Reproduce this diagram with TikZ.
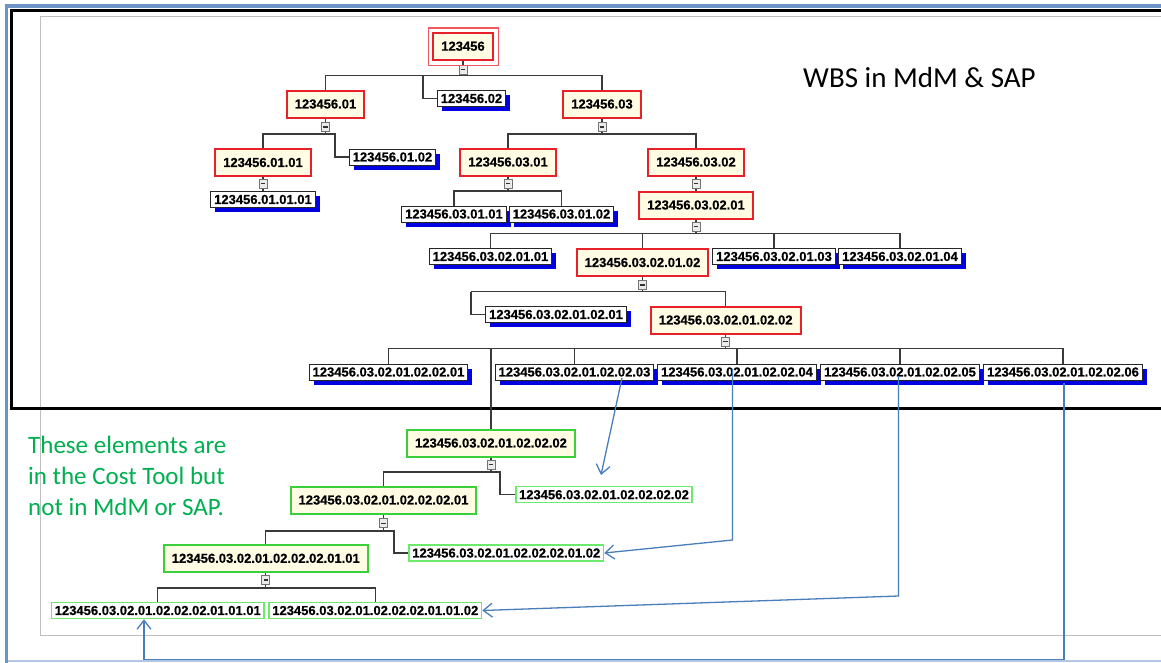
\documentclass[tikz,border=0pt]{standalone}
\usepackage{fontspec}
\usetikzlibrary{shadows,arrows.meta,calc}
\newfontfamily\lsans{Liberation Sans}[BoldFeatures={FakeBold=0.6}]
\newfontfamily\carl{Carlito}
\definecolor{wbsred}{HTML}{E8202A}
\definecolor{cream}{HTML}{FFFCE3}
\definecolor{wbsgreen}{HTML}{3CCF3C}
\definecolor{leafgreen}{HTML}{6BEA6B}
\definecolor{shadowblue}{HTML}{0000E0}
\definecolor{arrowblue}{HTML}{4A7EBB}
\definecolor{frameblue}{HTML}{6E93C6}
\definecolor{framelight}{HTML}{B4C6E0}
\definecolor{txtgreen}{HTML}{00B050}
\definecolor{treeline}{HTML}{3A3A3A}
\pgfdeclarelayer{bg}
\pgfsetlayers{bg,main}
\begin{document}
\begin{tikzpicture}[x=1pt,y=-1pt,
  lbl/.style={font=\lsans\bfseries\fontsize{13}{15}\selectfont, text=black},
  redbox/.style={lbl, draw=wbsred, line width=2pt, fill=cream, inner xsep=8pt, inner ysep=0pt, minimum height=27pt},
  leaf/.style={lbl, draw=black!85, line width=1pt, fill=white, inner xsep=3.5pt, inner ysep=0pt, minimum height=16pt,
    general shadow={shadow xshift=4.5pt, shadow yshift=-4.5pt, fill=shadowblue}},
  greenbox/.style={lbl, draw=wbsgreen, line width=2pt, fill=cream, inner xsep=8pt, inner ysep=0pt, minimum height=27pt},
  greenleaf/.style={lbl, draw=leafgreen, line width=1.5pt, fill=white, inner xsep=3.2pt, inner ysep=0pt, minimum height=16pt},
  toggle/.style={draw=black!55, line width=0.8pt, fill=black!8, minimum width=8pt, minimum height=9pt, inner sep=0pt,
    path picture={\draw[line width=1.2pt, black!80] ([xshift=-2.3pt]path picture bounding box.center) -- ([xshift=2.3pt]path picture bounding box.center);}},
  tree/.style={draw=treeline, line width=1.3pt},
  link/.style={draw=arrowblue, line width=1.3pt},
  tip/.style={-{Straight Barb[length=9pt,width=14pt]}}
]
\useasboundingbox (0,0) rectangle (1161,662);

% ---------- nodes ----------
\node[redbox] (root) at (463,46.2) {123456};
\node[toggle] (t0) at (463,69.5) {};
\node[redbox] (n01) at (325.5,104) {123456.01};
\node[leaf] (n02) at (471.5,98.5) {123456.02};
\node[redbox] (n03) at (602,104) {123456.03};

\node[toggle] (t01) at (325.5,127) {};
\node[redbox] (n0101) at (263,162.5) {123456.01.01};
\node[leaf] (n0102) at (392.5,157) {123456.01.02};
\node[toggle] (t0101) at (263,183.5) {};
\node[leaf] (n010101) at (263,199.5) {123456.01.01.01};

\node[toggle] (t03) at (602,127) {};
\node[redbox] (n0301) at (508,162) {123456.03.01};
\node[redbox] (n0302) at (696,162) {123456.03.02};
\node[toggle] (t0301) at (508,183.5) {};
\node[leaf] (n030101) at (454,214) {123456.03.01.01};
\node[leaf] (n030102) at (561.5,214) {123456.03.01.02};
\node[toggle] (t0302) at (696,183.5) {};
\node[redbox] (n030201) at (696,205) {123456.03.02.01};

\node[toggle] (t030201) at (696,226.5) {};
\node[leaf] (n03020101) at (490.5,256.5) {123456.03.02.01.01};
\node[redbox] (n03020102) at (642.5,262.5) {123456.03.02.01.02};
\node[leaf] (n03020103) at (774,256.5) {123456.03.02.01.03};
\node[leaf] (n03020104) at (900,256.5) {123456.03.02.01.04};

\node[toggle] (t03020102) at (642.5,285) {};
\node[leaf] (n0302010201) at (556,314.5) {123456.03.02.01.02.01};
\node[redbox] (n0302010202) at (725.7,320) {123456.03.02.01.02.02};

\node[toggle] (t0302010202) at (725.7,341.5) {};
\node[leaf] (L01) at (388.5,372) {123456.03.02.01.02.02.01};
\node[leaf] (L03) at (574.5,372) {123456.03.02.01.02.02.03};
\node[leaf] (L04) at (737,372) {123456.03.02.01.02.02.04};
\node[leaf] (L05) at (900,372) {123456.03.02.01.02.02.05};
\node[leaf] (L06) at (1063,372) {123456.03.02.01.02.02.06};

\node[greenbox] (G1) at (491,443) {123456.03.02.01.02.02.02};
\node[toggle] (tG1) at (491,464.5) {};
\node[greenbox] (G3) at (383.5,500) {123456.03.02.01.02.02.02.01};
\node[greenleaf] (G2) at (604,494.7) {123456.03.02.01.02.02.02.02};
\node[toggle] (tG3) at (383.5,523.3) {};
\node[greenbox] (G5) at (265.8,558.3) {123456.03.02.01.02.02.02.01.01};
\node[greenleaf] (G4) at (506.3,553) {123456.03.02.01.02.02.02.01.02};
\node[toggle] (tG5) at (265.8,580) {};
\node[greenleaf] (G6) at (157.8,610.5) {123456.03.02.01.02.02.02.01.01.01};
\node[greenleaf] (G7) at (375.3,610.5) {123456.03.02.01.02.02.02.01.01.02};

% root extra frame
\draw[wbsred!75, line width=1.2pt] ($(root.north west)+(-3.5,-3.8)$) rectangle ($(root.south east)+(4.5,5)$);

% texts
\node[font=\carl\fontsize{29}{35}\selectfont, anchor=base west, inner sep=0pt] (title) at (803,87.5) {WBS in MdM \& SAP};
\node[font=\carl\fontsize{25}{31}\selectfont, text=txtgreen, anchor=north west, align=left, inner sep=0pt] (note) at (28,435.5)
  {These elements are\\in the Cost Tool but\\not in MdM or SAP.};

% ---------- background: frame and tree lines ----------
\begin{pgfonlayer}{bg}
  \fill[white] (0,0) rectangle (1161,662);
  \draw[black!25, line width=1pt] (40,16) rectangle (1180,635);
  \draw[black, line width=3.3pt] (11.3,10.7) rectangle (1185,408.3);
  \draw[framelight, line width=2pt] (6.5,661) -- (1170,661);
  \draw[frameblue, line width=4pt] (5,6.2) -- (1170,6.2);
  \draw[frameblue, line width=3.2pt] (6.6,4.5) -- (6.6,670);

  % level coordinates
  \coordinate (b0) at (0,75.5);
  \coordinate (b01) at (0,134);
  \coordinate (b03) at (0,134);
  \coordinate (b0301) at (0,191);
  \coordinate (b030201) at (0,233.5);
  \coordinate (b03020102) at (0,291.5);
  \coordinate (b0302010202) at (0,348.5);
  \coordinate (bG1) at (0,472);
  \coordinate (bG3) at (0,531);
  \coordinate (bG5) at (0,588);
  \coordinate (e02) at (423,75.5);
  \coordinate (e0102) at (335,134);
  \coordinate (e0201) at (471,291.5);
  \coordinate (eG2) at (500,472);
  \coordinate (eG4) at (394,531);

  % root
  \draw[tree] (root.south) -- (t0.north);
  \draw[tree] (t0.south) -- (t0.south |- b0);
  \draw[tree] (n01.north) |- (n03.north |- b0) -- (n03.north);
  \draw[tree] (e02) |- (n02.west);
  % 01
  \draw[tree] (n01.south) -- (t01.north);
  \draw[tree] (t01.south) -- (t01.south |- b01);
  \draw[tree] (n0101.north) |- (e0102) |- (n0102.west);
  \draw[tree] (n0101.south) -- (t0101.north);
  \draw[tree] (t0101.south) -- (n010101.north);
  % 03
  \draw[tree] (n03.south) -- (t03.north);
  \draw[tree] (t03.south) -- (t03.south |- b03);
  \draw[tree] (n0301.north) |- (n0302.north |- b03) -- (n0302.north);
  \draw[tree] (n0301.south) -- (t0301.north);
  \draw[tree] (t0301.south) -- (t0301.south |- b0301);
  \draw[tree] (n030101.north) |- (n030102.north |- b0301) -- (n030102.north);
  \draw[tree] (n0302.south) -- (t0302.north);
  \draw[tree] (t0302.south) -- (n030201.north);
  % 03.02.01
  \draw[tree] (n030201.south) -- (t030201.north);
  \draw[tree] (t030201.south) -- (t030201.south |- b030201);
  \draw[tree] (n03020101.north) |- (n03020104.north |- b030201) -- (n03020104.north);
  \draw[tree] (n03020102.north) -- (n03020102.north |- b030201);
  \draw[tree] (n03020103.north) -- (n03020103.north |- b030201);
  % 03.02.01.02
  \draw[tree] (n03020102.south) -- (t03020102.north);
  \draw[tree] (t03020102.south) -- (t03020102.south |- b03020102);
  \draw[tree] (e0201) -- (n0302010202.north |- b03020102) -- (n0302010202.north);
  \draw[tree] (e0201) |- (n0302010201.west);
  % 03.02.01.02.02
  \draw[tree] (n0302010202.south) -- (t0302010202.north);
  \draw[tree] (t0302010202.south) -- (t0302010202.south |- b0302010202);
  \draw[tree] (L01.north) |- (L06.north |- b0302010202) -- (L06.north);
  \draw[tree] (L03.north) -- (L03.north |- b0302010202);
  \draw[tree] (L04.north) -- (L04.north |- b0302010202);
  \draw[tree] (L05.north) -- (L05.north |- b0302010202);
  \draw[tree] (G1.north) -- (G1.north |- b0302010202);
  % green
  \draw[tree] (G1.south) -- (tG1.north);
  \draw[tree] (tG1.south) -- (tG1.south |- bG1);
  \draw[tree] (G3.north) |- (eG2) |- (G2.west);
  \draw[tree] (G3.south) -- (tG3.north);
  \draw[tree] (tG3.south) -- (tG3.south |- bG3);
  \draw[tree] (G5.north) |- (eG4) |- (G4.west);
  \draw[tree] (G5.south) -- (tG5.north);
  \draw[tree] (tG5.south) -- (tG5.south |- bG5);
  \draw[tree] (G6.north) |- (G7.north |- bG5) -- (G7.north);
\end{pgfonlayer}

% ---------- blue links ----------
\coordinate (a1s) at (622,378);
\coordinate (a1e) at (601,475);
\draw[link,tip] (a1s) -- (a1e);
\coordinate (a2s) at (732.5,369);
\coordinate (a2m) at (732.5,540);
\draw[link,tip] (a2s) -- (a2m) -- (G4.east);
\coordinate (a3s) at (898.5,376);
\coordinate (a3m) at (898.5,596);
\draw[link,tip] (a3s) -- (a3m) -- (G7.east);
\coordinate (a4s) at (1064,383);
\coordinate (a4m) at (1064,659.5);
\coordinate (a4n) at (144,659.5);
\draw[link,tip] (a4s) -- (a4m) -- (a4n) -- (a4n |- G6.south);
\end{tikzpicture}
\end{document}
